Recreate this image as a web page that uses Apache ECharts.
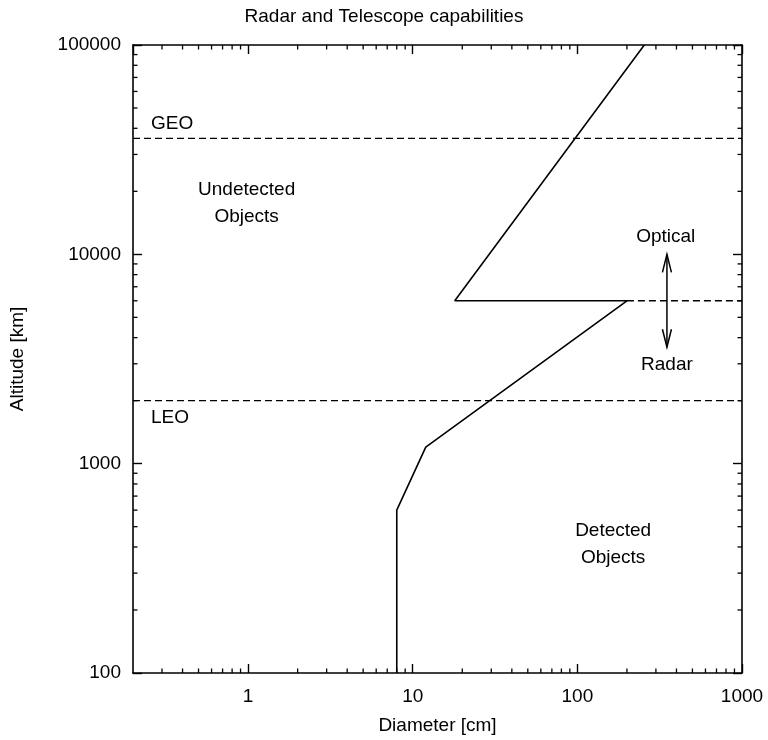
<!DOCTYPE html>
<html><head><meta charset="utf-8">
<script src="https://cdn.jsdelivr.net/npm/echarts@6/dist/echarts.min.js"></script>
<style>html,body{margin:0;padding:0;background:#fff}#c{width:768px;height:740px}</style>
</head><body><div id="c"></div>
<script>
// ---- data ----
const xTickLabels = [1, 10, 100, 1000];
const yTickLabels = [100, 1000, 10000, 100000];
const xRange = [0.2, 1000];
const yRange = [100, 100000];
// detection boundary (diameter cm -> altitude km)
const boundaryDiameter = [8, 8, 12, 200, 18, 255];
const boundaryAltitude = [100, 600, 1200, 6000, 6000, 100000];
const geoAltitude = 35786;
const leoAltitude = 2000;
const transitionAltitude = 6000;
const transitionDiameter = [200, 1000];
const arrowDiameter = 350;
const arrowAltitude = [10000, 3600];
const labelTexts = ['GEO', 'LEO', 'Undetected\nObjects', 'Optical', 'Radar', 'Detected\nObjects'];
const labelDiameter = [0.257, 0.257, 0.98, 344, 350, 165];
const labelAltitude = [35786, 2000, 17500, 12100, 2980, 413];

// ---- styles ----
const FONT = "'Liberation Sans', Arial, Helvetica, sans-serif";
const FS = 19;
const labelAlign = ['left', 'left', 'center', 'center', 'center', 'center'];
const labelVAlign = ['bottom', 'top', 'middle', 'middle', 'middle', 'middle'];
const labelDy = [-1, 4, 0, 0, 0, 0];

function minorTicks(lo, hi) {
  const out = [];
  for (let e = Math.floor(Math.log10(lo)); e < Math.ceil(Math.log10(hi)); e++) {
    for (let m = 2; m <= 9; m++) {
      const v = m * Math.pow(10, e);
      if (v > lo * 1.0001 && v < hi * 0.9999) out.push(v);
    }
  }
  return out;
}
const xMinor = minorTicks(xRange[0], xRange[1]);
const yMinor = minorTicks(yRange[0], yRange[1]);

const isTick = (arr, v) => arr.some(t => Math.abs(t - v) / t < 1e-6);

const axisLineStyle = { color: '#000', width: 1.6 };
function xAx(pos, showLabel) {
  return {
    type: 'log', logBase: 10, min: xRange[0], max: xRange[1], position: pos,
    axisLine: { show: true, lineStyle: axisLineStyle },
    axisTick: { show: true, inside: true, length: 9, lineStyle: { color: '#000', width: 1.4 } },
    splitLine: { show: false }, minorTick: { show: false },
    axisLabel: {
      show: showLabel, margin: 14, color: '#000', fontFamily: FONT, fontSize: FS,
      showMinLabel: false,
      formatter: v => isTick(xTickLabels, v) ? String(Math.round(v)) : ''
    },
    name: showLabel ? 'Diameter [cm]' : '', nameLocation: 'middle', nameGap: 43,
    nameTextStyle: { color: '#000', fontFamily: FONT, fontSize: FS }
  };
}
function yAx(pos, showLabel) {
  return {
    type: 'log', logBase: 10, min: yRange[0], max: yRange[1], position: pos,
    axisLine: { show: true, lineStyle: axisLineStyle },
    axisTick: { show: true, inside: true, length: 9, lineStyle: { color: '#000', width: 1.4 } },
    splitLine: { show: false }, minorTick: { show: false },
    axisLabel: {
      show: showLabel, margin: 12, color: '#000', fontFamily: FONT, fontSize: FS,
      formatter: v => isTick(yTickLabels, v) ? String(Math.round(v)) : ''
    },
    name: showLabel ? 'Altitude [km]' : '', nameLocation: 'middle', nameGap: 106,
    nameTextStyle: { color: '#000', fontFamily: FONT, fontSize: FS }
  };
}

const chart = echarts.init(document.getElementById('c'), null, { renderer: 'canvas' });
const dashed = { color: '#000', width: 1.3, type: [7, 4] };
chart.setOption({
  animation: false,
  backgroundColor: '#fff',
  title: {
    text: 'Radar and Telescope capabilities', left: 'center', top: 2,
    textStyle: { color: '#000', fontFamily: FONT, fontSize: FS, fontWeight: 'normal' }
  },
  grid: { left: 127, right: 26, top: 45, bottom: 66, containLabel: false },
  xAxis: [xAx('bottom', true), xAx('top', false)],
  yAxis: [yAx('left', true), yAx('right', false)],
  series: [
    {
      type: 'line', name: 'GEO', showSymbol: false, symbol: 'none',
      data: [[xRange[0], geoAltitude], [xRange[1], geoAltitude]],
      lineStyle: dashed
    },
    {
      type: 'line', name: 'LEO', showSymbol: false, symbol: 'none',
      data: [[xRange[0], leoAltitude], [xRange[1], leoAltitude]],
      lineStyle: dashed
    },
    {
      type: 'line', name: 'transition', showSymbol: false, symbol: 'none',
      data: transitionDiameter.map(d => [d, transitionAltitude]),
      lineStyle: dashed
    },
    {
      type: 'line', name: 'boundary', showSymbol: false, symbol: 'none',
      data: boundaryDiameter.map((d, i) => [d, boundaryAltitude[i]]),
      lineStyle: { color: '#000', width: 1.6 }
    },
    {
      type: 'custom', name: 'xminor', clip: false, silent: true,
      data: xMinor.map(v => [v, yRange[0]]),
      renderItem: (params, api) => {
        const cs = params.coordSys;
        const p = api.coord([api.value(0), api.value(1)]);
        const b = cs.y + cs.height, t = cs.y;
        const st = { stroke: '#000', lineWidth: 1.3 };
        return { type: 'group', children: [
          { type: 'line', shape: { x1: p[0], y1: b, x2: p[0], y2: b - 4.5 }, style: st },
          { type: 'line', shape: { x1: p[0], y1: t, x2: p[0], y2: t + 4.5 }, style: st }
        ]};
      }
    },
    {
      type: 'custom', name: 'yminor', clip: false, silent: true,
      data: yMinor.map(v => [1, v]),
      renderItem: (params, api) => {
        const cs = params.coordSys;
        const p = api.coord([api.value(0), api.value(1)]);
        const l = cs.x, r = cs.x + cs.width;
        const st = { stroke: '#000', lineWidth: 1.3 };
        return { type: 'group', children: [
          { type: 'line', shape: { x1: l, y1: p[1], x2: l + 4.5, y2: p[1] }, style: st },
          { type: 'line', shape: { x1: r, y1: p[1], x2: r - 4.5, y2: p[1] }, style: st }
        ]};
      }
    },
    {
      type: 'custom', name: 'arrow', clip: false, silent: true,
      encode: { x: 0, y: [1, 2] },
      data: [[arrowDiameter, arrowAltitude[0], arrowAltitude[1]]],
      renderItem: (params, api) => {
        const a = api.coord([api.value(0), api.value(1)]);
        const b = api.coord([api.value(0), api.value(2)]);
        const st = { stroke: '#000', lineWidth: 1.5, fill: null };
        const hl = 18, hw = 4.5;
        return { type: 'group', children: [
          { type: 'line', shape: { x1: a[0], y1: a[1], x2: b[0], y2: b[1] }, style: st },
          { type: 'polyline', shape: { points: [[a[0] - hw, a[1] + hl], [a[0], a[1]], [a[0] + hw, a[1] + hl]] }, style: st },
          { type: 'polyline', shape: { points: [[b[0] - hw, b[1] - hl], [b[0], b[1]], [b[0] + hw, b[1] - hl]] }, style: st }
        ]};
      }
    },
    {
      type: 'custom', name: 'labels', clip: false, silent: true,
      data: labelDiameter.map((d, i) => [d, labelAltitude[i]]),
      renderItem: (params, api) => {
        const i = params.dataIndex;
        const p = api.coord([api.value(0), api.value(1)]);
        return {
          type: 'text', x: p[0], y: p[1] + labelDy[i],
          style: {
            text: labelTexts[i], fill: '#000', font: FS + 'px ' + FONT,
            align: labelAlign[i], verticalAlign: labelVAlign[i], lineHeight: 27
          }
        };
      }
    }
  ]
});
</script></body></html>
